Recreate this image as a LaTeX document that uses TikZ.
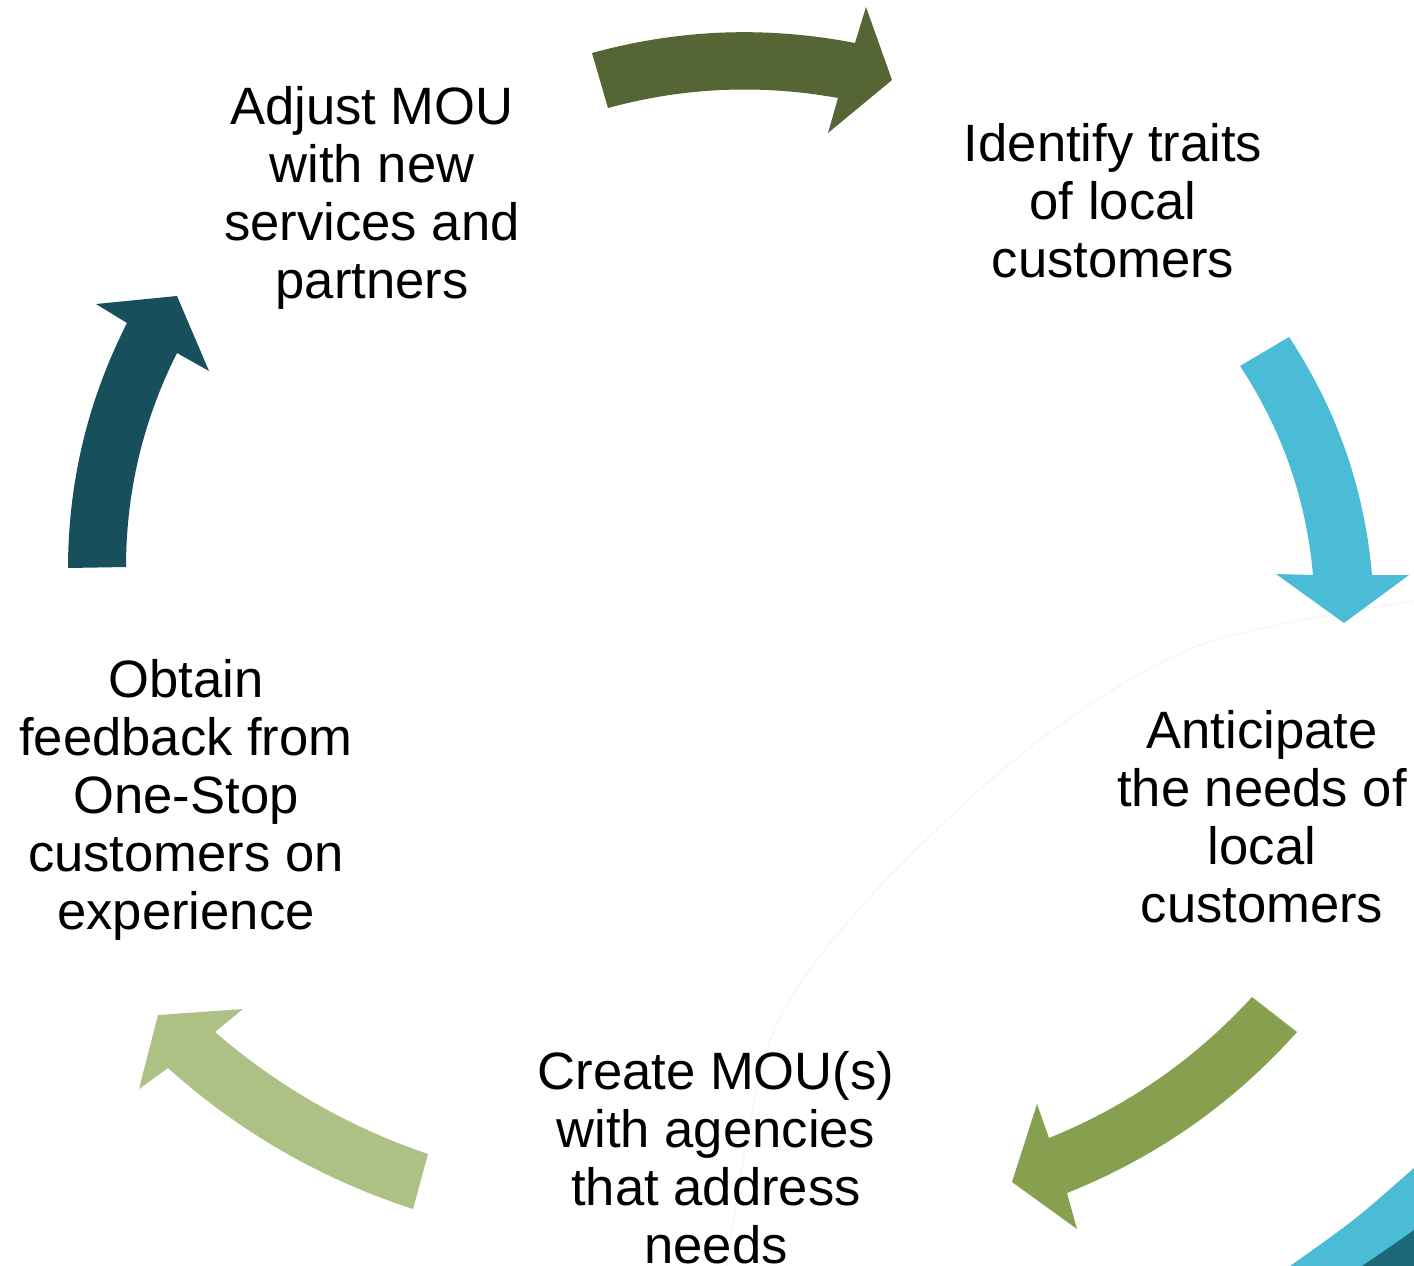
\documentclass[tikz,border=0pt]{standalone}
\usepackage{fontspec}
\setmainfont{Liberation Sans}
\definecolor{toparrow}{RGB}{85,101,52}
\definecolor{rightarrow}{RGB}{75,188,213}
\definecolor{lowrightarrow}{RGB}{134,160,80}
\definecolor{lowleftarrow}{RGB}{173,193,132}
\definecolor{leftarrow}{RGB}{23,79,92}
\definecolor{swooshdark}{RGB}{28,104,120}
\definecolor{faintline}{RGB}{246,246,246}
\tikzset{steptext/.style = {align=center, inner sep=0pt, anchor=base,
                            font=\fontsize{52.6pt}{58pt}\selectfont}}

\begin{document}
\begin{tikzpicture}[x=1pt, y=-1pt]
    \useasboundingbox (0,0) rectangle (1414,1266);
    \clip (0,0) rectangle (1414,1266);

    \draw[faintline, line width=1.5pt] plot[smooth] coordinates {(1414,601) (1200,645) (1033,745)
        (867,900) (770,1040) (727,1266)};

    \fill[toparrow] (592,53) .. controls (678.9,29.1) and (766.5,25.8) .. (855,43) -- (866,7) -- (892,80)
        -- (828,133) -- (838,98) .. controls (760.6,84) and (683.9,87.3) .. (608,108) -- cycle;
    \fill[rightarrow] (1289,337) .. controls (1336.8,409.3) and (1364.5,488.7) .. (1372,575) -- (1409,575)
        -- (1344,623) -- (1276,574) -- (1313,575) .. controls (1306.3,499.2) and (1281.9,429.5) .. (1240,366) -- cycle;
    \fill[lowrightarrow] (1297,1032) .. controls (1232.9,1103.7) and (1156.3,1157.3) .. (1067,1193) -- (1077,1229)
        -- (1012,1182) -- (1037,1104) -- (1049,1138) .. controls (1127.3,1106.3) and (1195,1059.3) .. (1252,997) -- cycle;
    \fill[lowleftarrow] (413,1209) .. controls (321.4,1179.3) and (239.7,1132.3) .. (168,1068) -- (139,1089)
        -- (158,1015) -- (243,1009) -- (215,1032) .. controls (278.1,1086.5) and (349.1,1127.2) .. (428,1154) -- cycle;
    \fill[leftarrow] (68,568) .. controls (68.2,481.7) and (87.9,400) .. (127,323) -- (96,304) -- (177,296)
        -- (209,371) -- (177,353) .. controls (143.1,420.3) and (126.1,491.7) .. (126,567) -- cycle;

    \fill[rightarrow] (1290,1266) .. controls (1355,1220) .. (1414,1168) -- (1414,1266) -- cycle;
    \fill[swooshdark] (1362,1266) .. controls (1390,1247) .. (1414,1230) -- (1414,1266) -- cycle;

    \node[steptext] (adjust) at (372,298) {Adjust MOU\\with new\\services and\\partners};
    \node[steptext] (identify) at (1113,277) {Identify traits\\of local\\customers};
    \node[steptext] (anticipate) at (1262,922) {Anticipate\\the needs of\\local\\customers};
    \node[steptext] (create) at (716,1263) {Create MOU(s)\\with agencies\\that address\\needs};
    \node[steptext] (obtain) at (186,929) {Obtain\\feedback from\\One-Stop\\customers on\\experience};
  \end{tikzpicture}
\end{document}
